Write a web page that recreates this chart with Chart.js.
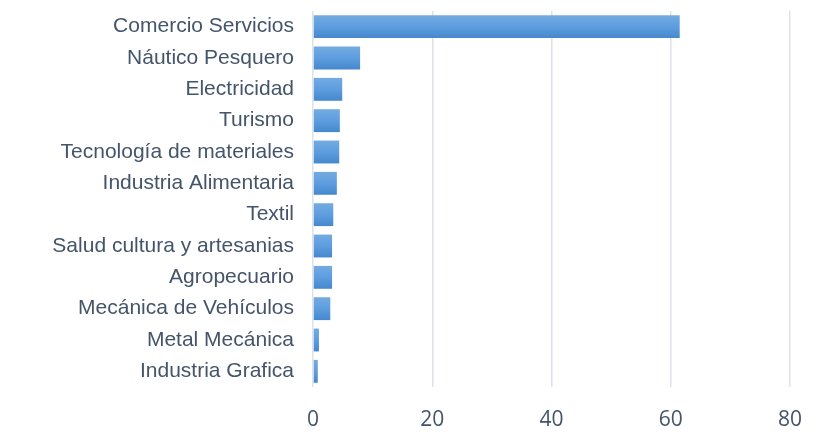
<!DOCTYPE html>
<html>
<head>
<meta charset="utf-8">
<script src="https://cdn.jsdelivr.net/npm/chart.js@4/dist/chart.umd.min.js"></script>
<style>
  html, body { margin: 0; padding: 0; background: #fff; }
  #wrap { width: 818px; height: 442px; }
</style>
</head>
<body>
<div id="wrap"><canvas id="chart" width="818" height="442"></canvas></div>
<script>
const categories = [
    'Comercio Servicios',
    'Náutico Pesquero',
    'Electricidad',
    'Turismo',
    'Tecnología de materiales',
    'Industria Alimentaria',
    'Textil',
    'Salud cultura y artesanias',
    'Agropecuario',
    'Mecánica de Vehículos',
    'Metal Mecánica',
    'Industria Grafica'
];
const values = [61.5, 7.9, 4.9, 4.5, 4.4, 4.0, 3.4, 3.2, 3.2, 2.9, 1.0, 0.8];
const xTicks = [0, 20, 40, 60, 80];

const TEXT_COLOR = '#44546a';
const GRID_COLOR = '#dde1e8';

// vertical gradient per bar, like the office-style fill
const barGradient = {
    id: 'barGradient',
    beforeDatasetsDraw(chart) {
        const ctx = chart.ctx;
        chart.getDatasetMeta(0).data.forEach(bar => {
            const top = bar.y - bar.height / 2;
            const g = ctx.createLinearGradient(0, top, 0, top + bar.height);
            g.addColorStop(0, '#74abe0');
            g.addColorStop(0.5, '#5d9de0');
            g.addColorStop(1, '#4588cb');
            bar.options.backgroundColor = g;
        });
    }
};

const ctx = document.getElementById('chart').getContext('2d');
new Chart(ctx, {
    type: 'bar',
    data: {
        labels: categories,
        datasets: [{
            data: values,
            // scriptable so every bar gets its own options object
            backgroundColor: () => '#5b9bd5',
            borderWidth: 0,
            barPercentage: 0.73,
            categoryPercentage: 1
        }]
    },
    options: {
        indexAxis: 'y',
        responsive: false,
        animation: false,
        layout: { padding: { top: 11, right: 28, bottom: 0, left: 0 } },
        plugins: {
            legend: { display: false },
            tooltip: { enabled: false }
        },
        scales: {
            x: {
                min: 0,
                max: 80,
                afterBuildTicks: scale => {
                    scale.ticks = xTicks.map(v => ({ value: v }));
                },
                afterFit: scale => {
                    scale.height = 55;
                    scale.paddingLeft = 0;
                    scale.paddingRight = 0;
                },
                grid: { color: GRID_COLOR, lineWidth: 1.5, drawTicks: false },
                border: { display: false },
                ticks: {
                    padding: 20,
                    color: TEXT_COLOR,
                    font: { family: '"Open Sans", sans-serif', size: 21 }
                }
            },
            y: {
                afterFit: scale => {
                    scale.width = 313;
                    scale.paddingTop = 0;
                    scale.paddingBottom = 0;
                },
                grid: { display: false, drawTicks: false },
                border: { display: false },
                ticks: {
                    padding: 19,
                    autoSkip: false,
                    color: TEXT_COLOR,
                    font: { family: '"Liberation Sans", Arial, sans-serif', size: 21 }
                }
            }
        }
    },
    plugins: [barGradient]
});
</script>
</body>
</html>
